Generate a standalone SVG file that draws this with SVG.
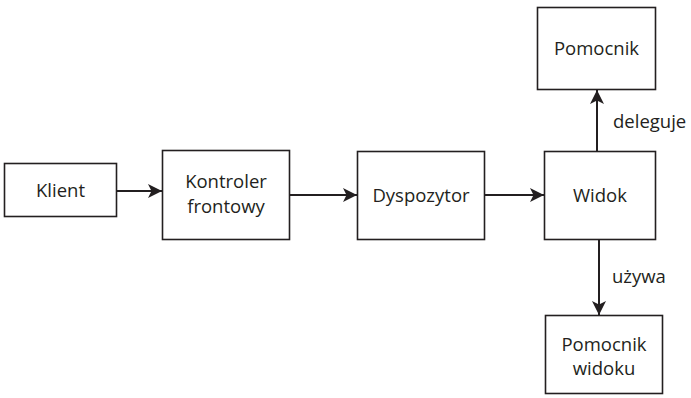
<svg xmlns="http://www.w3.org/2000/svg" width="691" height="398" viewBox="0 0 691 398">
<defs>
<marker id="ah" viewBox="0 0 14 14" refX="14" refY="7" markerWidth="14" markerHeight="14" markerUnits="userSpaceOnUse" orient="auto">
<path d="M0,0 L14,7 L0,14 L3.5,7 Z" fill="#231f20"/>
</marker>
</defs>
<style>
.box{fill:#fff;stroke:#231f20;stroke-width:1.6}
.t{font-family:"Open Sans","Liberation Sans",sans-serif;font-size:18.5px;fill:#231f20;text-anchor:middle}
.l{font-family:"Open Sans","Liberation Sans",sans-serif;font-size:18.5px;fill:#231f20}
.c{stroke:#231f20;stroke-width:2;fill:none;marker-end:url(#ah)}
</style>
<rect width="691" height="398" fill="#fff"/>
<g id="klient"><rect class="box" x="4.5" y="163.5" width="112" height="53"/><text class="t" x="60.5" y="197">Klient</text></g>
<g id="kontroler"><rect class="box" x="162.5" y="150.5" width="127" height="89"/><text class="t" x="226" y="188">Kontroler</text><text class="t" x="226" y="213">frontowy</text></g>
<g id="dyspozytor"><rect class="box" x="357.5" y="151.5" width="127" height="88"/><text class="t" x="421" y="202">Dyspozytor</text></g>
<g id="widok"><rect class="box" x="544.5" y="151.5" width="111" height="88"/><text class="t" x="600" y="202">Widok</text></g>
<g id="pomocnik"><rect class="box" x="537.5" y="7.5" width="118" height="82"/><text class="t" x="596.5" y="55">Pomocnik</text></g>
<g id="pomocnik-widoku"><rect class="box" x="545.5" y="315.5" width="117" height="78"/><text class="t" x="604" y="351">Pomocnik</text><text class="t" x="604" y="375">widoku</text></g>
<g id="connectors">
<line class="c" x1="117" y1="191" x2="162" y2="191"/>
<line class="c" x1="290" y1="195" x2="357" y2="195"/>
<line class="c" x1="485" y1="195" x2="544" y2="195"/>
<line class="c" x1="597" y1="151" x2="597" y2="90"/>
<line class="c" x1="599" y1="240" x2="599" y2="315"/>
<text class="l" x="613" y="128">deleguje</text>
<text class="l" x="612" y="283">używa</text>
</g>
</svg>
